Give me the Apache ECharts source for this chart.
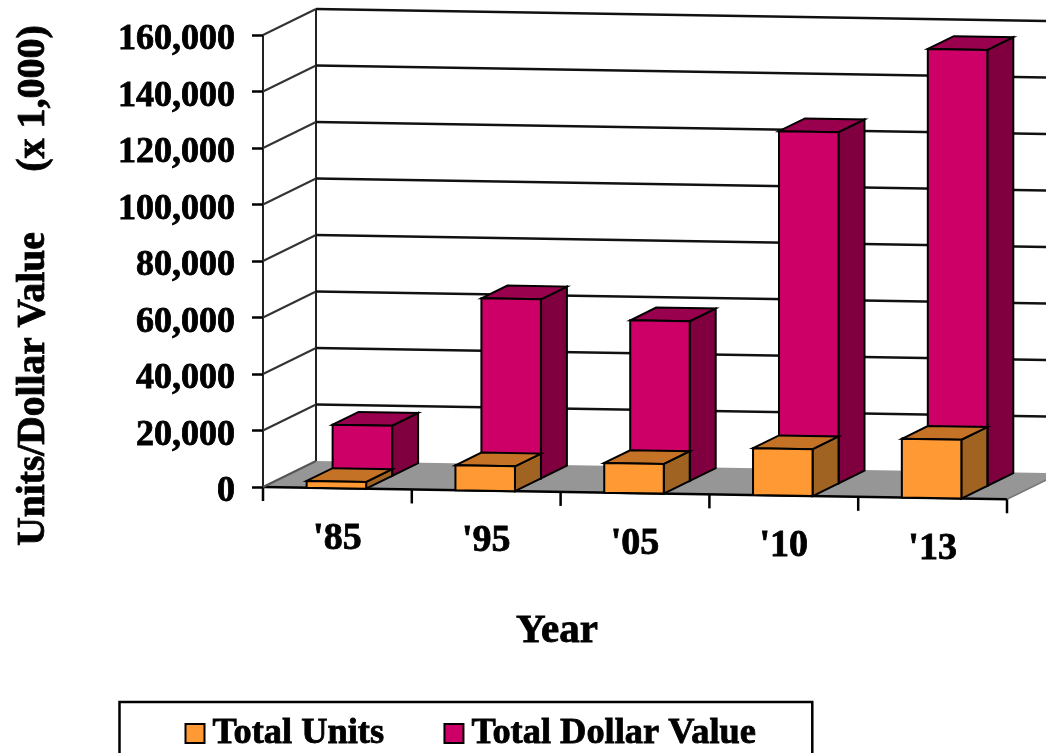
<!DOCTYPE html>
<html>
<head>
<meta charset="utf-8">
<style>html,body{margin:0;padding:0;background:#fff;overflow:hidden}#c{width:1046px;height:753px}</style>
<script src="https://cdn.jsdelivr.net/npm/echarts@6/dist/echarts.min.js"></script>
</head>
<body>
<div id="c"></div>
<script>
const categories = ["'85", "'95", "'05", "'10", "'13"];
const totalUnits = [2400, 8800, 10500, 16600, 20800];
const totalDollarValue = [17800, 63400, 56500, 124300, 154300];
const yTicks = [0, 20000, 40000, 60000, 80000, 100000, 120000, 140000, 160000];

const SERIF = '"Liberation Serif", "Times New Roman", serif';
const GRID = { left: 263, width: 744, top: 35, height: 452 };
const SLOPE = 0.0165;          // tilt of the floor line across the plot
const DEPTH = { x: 53, y: -26 }; // full depth of the box
const BAR_W = 0.4;             // fraction of a category band

const chart = echarts.init(document.getElementById('c'), null, { renderer: 'canvas' });

// Oblique projection: d = 0 at the front plane, d = 1 at the back wall
function proj(x, y, d) {
  return [x + DEPTH.x * d, y + SLOPE * (x - GRID.left) + DEPTH.y * d];
}
function poly(points, fill, stroke, lw) {
  return { type: 'polygon', shape: { points }, style: { fill, stroke: stroke || '#000', lineWidth: lw === undefined ? 2 : lw } };
}
function line(a, b, stroke, lw) {
  return { type: 'line', shape: { x1: a[0], y1: a[1], x2: b[0], y2: b[1] }, style: { stroke, lineWidth: lw, fill: null } };
}

function boxRenderer(depthStart, colors) {
  return function (params, api) {
    const cat = api.value(0), val = api.value(1);
    const band = api.size([1, 0])[0];
    const cx = api.coord([cat, 0])[0] - 1;
    const yBase = api.coord([cat, 0])[1];
    const yTop = api.coord([cat, val])[1];
    const xL = cx - band * BAR_W / 2, xR = cx + band * BAR_W / 2;
    const d0 = depthStart, d1 = depthStart + 0.49;
    const fbl = proj(xL, yBase, d0), fbr = proj(xR, yBase, d0);
    const ftl = [fbl[0], fbl[1] - (yBase - yTop)], ftr = [fbr[0], fbr[1] - (yBase - yTop)];
    const dx = DEPTH.x * (d1 - d0), dy = DEPTH.y * (d1 - d0);
    const btl = [ftl[0] + dx, ftl[1] + dy], btr = [ftr[0] + dx, ftr[1] + dy], bbr = [fbr[0] + dx, fbr[1] + dy];
    return {
      type: 'group',
      children: [
        poly([ftr, btr, bbr, fbr], colors.side),
        poly([ftl, btl, btr, ftr], colors.top),
        poly([fbl, fbr, ftr, ftl], colors.front)
      ]
    };
  };
}

const option = {
  animation: false,
  backgroundColor: '#fff',
  grid: { left: GRID.left, top: GRID.top, width: GRID.width, height: GRID.height, containLabel: false },
  xAxis: {
    type: 'category', data: categories,
    axisLine: { show: false }, axisTick: { show: false }, axisLabel: { show: false }
  },
  yAxis: {
    type: 'value', min: 0, max: 160000, interval: 20000,
    splitLine: { show: false },
    axisLine: { show: true, lineStyle: { color: '#222', width: 2 } },
    axisTick: { show: true, length: 11, inside: false, lineStyle: { color: '#000', width: 2.5 } },
    axisLabel: {
      margin: 28, color: '#000', fontFamily: SERIF, fontWeight: 'bold', fontSize: 36,
      verticalAlign: 'top', lineHeight: 10,
      textBorderColor: '#000', textBorderWidth: 0.8,
      formatter: v => v.toLocaleString('en-US')
    }
  },
  legend: {
    left: 119.5, top: 702, orient: 'horizontal',
    padding: [13, 56, 40, 65],
    borderColor: '#000', borderWidth: 2.5, backgroundColor: '#fff',
    itemWidth: 19, itemHeight: 19, itemGap: 59, icon: 'rect',
    itemStyle: { borderColor: '#000', borderWidth: 2 },
    textStyle: { color: '#000', fontFamily: SERIF, fontWeight: 'bold', fontSize: 36.4, padding: [0, 0, 0, 3], textBorderColor: '#000', textBorderWidth: 0.8 },
    data: ['Total Units', 'Total Dollar Value']
  },
  graphic: [
    { type: 'text', x: 34, y: 389, rotation: Math.PI / 2, style: { text: 'Units/Dollar Value', font: 'bold 39.5px ' + SERIF, fill: '#000', stroke: '#000', lineWidth: 0.8, align: 'center', verticalAlign: 'middle' } },
    { type: 'text', x: 34, y: 98.5, rotation: Math.PI / 2, style: { text: '(x 1,000)', font: 'bold 40px ' + SERIF, fill: '#000', stroke: '#000', lineWidth: 0.8, align: 'center', verticalAlign: 'middle' } },
    { type: 'text', x: 557, y: 631, style: { text: 'Year', font: 'bold 41px ' + SERIF, fill: '#000', stroke: '#000', lineWidth: 0.8, align: 'center', verticalAlign: 'middle' } }
  ],
  series: [
    {
      name: 'frame', type: 'custom', clip: false, silent: true, z: 1,
      data: yTicks.map(v => [0, v]),
      renderItem: function (params, api) {
        const v = api.value(1);
        const band = api.size([1, 0])[0];
        const y = api.coord([0, v])[1];
        const x0 = GRID.left, x1 = GRID.left + GRID.width;
        const children = [];
        if (v === 0) {
          children.push(poly([proj(x0, y, 0), proj(x1, y, 0), proj(x1, y, 1), proj(x0, y, 1)], '#969696', '#969696', 0));
          const top = api.coord([0, yTicks[yTicks.length - 1]])[1];
          children.push(line(proj(x0, y, 1), [proj(x0, top, 1)[0], proj(x0, top, 1)[1]], '#222', 2));
          children.push(line(proj(x0, y, 0), proj(x1, y, 0), '#000', 2.5));
          children.push(line(proj(x1, y, 0), proj(x1, y, 1), '#777', 1.5));
          for (let i = 0; i <= categories.length; i++) {
            const p = proj(x0 + band * i, y, 0);
            children.push(line(p, [p[0], p[1] + 14], '#000', 2.5));
          }
        }
        children.push(line(proj(x0, y, 0), proj(x0, y, 1), v === 0 ? '#555' : '#333', 2));
        if (v !== 0) children.push(line(proj(x0, y, 1), proj(x1 + 60, y, 1), '#111', 2.6));
        return { type: 'group', children };
      }
    },
    {
      name: 'Total Dollar Value', type: 'custom', clip: false, z: 2,
      itemStyle: { color: '#CC0066' },
      data: totalDollarValue.map((v, i) => [i, v]),
      renderItem: boxRenderer(0.49, { front: '#CC0066', top: '#99004D', side: '#80003F' })
    },
    {
      name: 'Total Units', type: 'custom', clip: false, z: 3,
      itemStyle: { color: '#FF9933' },
      data: totalUnits.map((v, i) => [i, v]),
      renderItem: boxRenderer(0, { front: '#FF9933', top: '#C47326', side: '#A06322' })
    },
    {
      name: 'labels', type: 'custom', clip: false, silent: true, z: 4,
      data: categories.map((c, i) => [i, 0]),
      renderItem: function (params, api) {
        const i = api.value(0);
        const p = api.coord([i, 0]);
        const q = proj(p[0], p[1], 0);
        return {
          type: 'text',
          style: { text: categories[i], x: q[0], y: q[1] + 51, font: 'bold 38px ' + SERIF, fill: '#000', stroke: '#000', lineWidth: 0.8, align: 'center', verticalAlign: 'middle' }
        };
      }
    }
  ]
};
chart.setOption(option);
</script>
</body>
</html>
